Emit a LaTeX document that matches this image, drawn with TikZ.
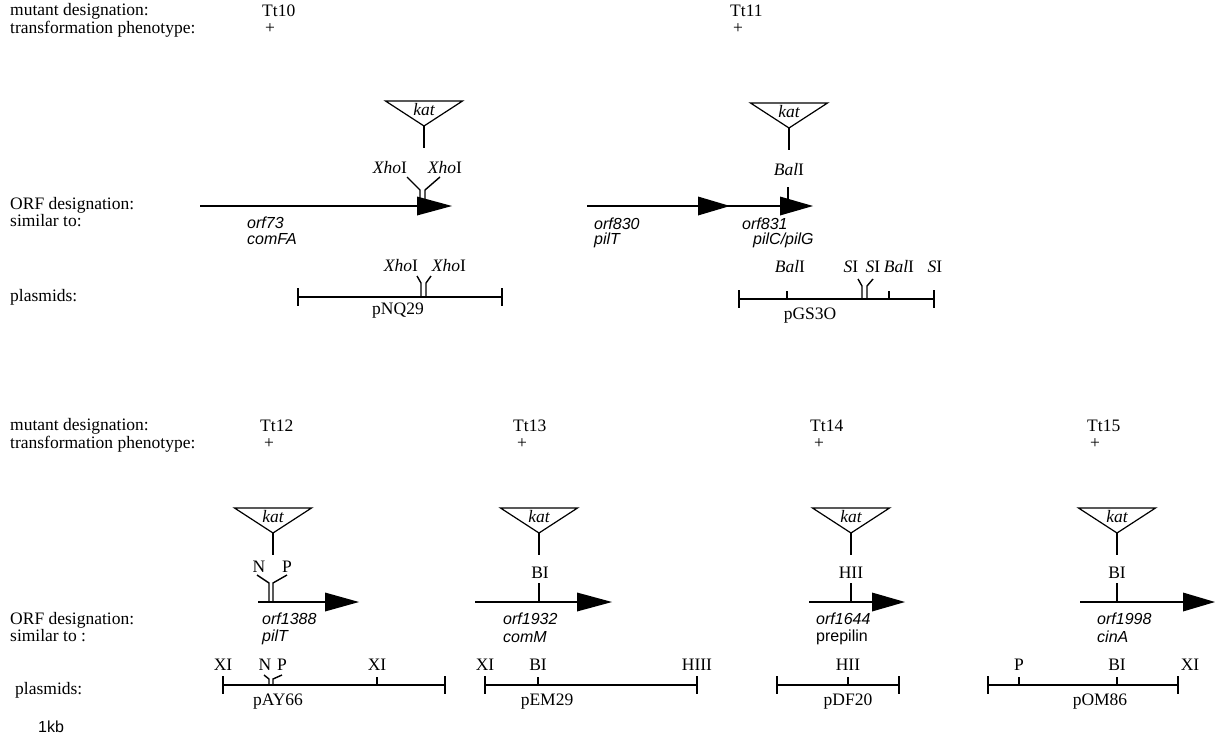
\documentclass[tikz,border=0pt]{standalone}
\usepackage{fontspec}
\setmainfont{Liberation Serif}
\newfontfamily\sansf{Liberation Sans}
\usetikzlibrary{calc}
\newcommand\fsr{\fontsize{17.5}{19}\selectfont}
\newcommand\fsa{\sansf\fontsize{16}{18}\selectfont}
\tikzset{
  lbl/.style={anchor=west, inner sep=0pt, font=\fsr},
  slbl/.style={anchor=west, inner sep=0pt, font=\fsa\itshape},
  slblr/.style={anchor=west, inner sep=0pt, font=\fsa},
  site/.style={anchor=center, inner sep=0pt, font=\fsr},
  gene/.style={line width=1.6pt},
  pline/.style={line width=1.6pt},
  tick/.style={line width=1.4pt},
  katline/.style={line width=1.2pt},
  kattext/.style={inner sep=0pt, font=\fsr\itshape},
}
% kat insertion: name, x centre, y top
\newcommand\katins[3]{%
  \coordinate (#1tl) at (#2-38.5,#3);
  \coordinate (#1tr) at (#2+38.5,#3);
  \coordinate (#1ap) at (#2,#3+25);
  \coordinate (#1end) at (#2,#3+47);
  \draw[katline] (#1tl) -- (#1tr) -- (#1ap) -- cycle;
  \draw[katline] (#1ap) -- (#1end);
  \node[kattext] (#1txt) at (#2,#3+9) {kat};
}
% arrow head: name, base x, tip x, y
\newcommand\ahead[4]{%
  \coordinate (#1b) at (#2,#4);
  \coordinate (#1t) at (#3,#4);
  \fill ([yshift=9.5pt]#1b) -- (#1t) -- ([yshift=-9.5pt]#1b) -- cycle;
}
% plasmid: name, x0, x1, y
\newcommand\plasmid[4]{%
  \coordinate (#1l) at (#2,#4);
  \coordinate (#1r) at (#3,#4);
  \draw[pline] (#1l) -- (#1r);
  \draw[tick] ([yshift=9pt]#1l) -- ([yshift=-9pt]#1l);
  \draw[tick] ([yshift=9pt]#1r) -- ([yshift=-9pt]#1r);
}
% site tick: name, x, y(line)
\newcommand\sitetick[3]{%
  \coordinate (#1a) at (#2,#3-8);
  \coordinate (#1b) at (#2,#3);
  \draw[tick] (#1a) -- (#1b);
}
\begin{document}
\begin{tikzpicture}[x=1pt,y=-1pt]
\useasboundingbox (0,0) rectangle (1215,750);

% ================= TOP =================
\node[lbl] (hm1) at (10,11) {mutant designation:};
\node[lbl] (hp1) at (10,29) {transformation phenotype:};
\node[lbl] (tt10) at (262,11) {Tt10};
\node[lbl] (tt10p) at (265,29) {+};
\node[lbl] (tt11) at (730,11) {Tt11};
\node[lbl] (tt11p) at (733,29) {+};

\node[lbl] (orfd1) at (10,205) {ORF designation:};
\node[lbl] (sim1) at (10,221) {similar to:};
\node[lbl] (pl1) at (10,297) {plasmids:};

% Tt10
\katins{k10}{424}{101}
\node[site] (x1l) at (390,168) {\textit{Xho}I};
\node[site] (x1r) at (445,168) {\textit{Xho}I};
\coordinate (g1s) at (200,206);
\ahead{h1}{417}{452}{206}
\draw[gene] (g1s) -- (h1b);
\coordinate (s1a) at (407,177); \coordinate (s1b) at (420,190); \coordinate (s1c) at (420,206);
\coordinate (s1d) at (440,177); \coordinate (s1e) at (425,190); \coordinate (s1f) at (425,206);
\draw[tick] (s1a) -- (s1b) -- (s1c);
\draw[tick] (s1d) -- (s1e) -- (s1f);
\node[slbl] (orf73) at (247,223) {orf73};
\node[slbl] (comfa) at (247,239) {comFA};

\plasmid{p1}{298}{502}{297}
\node[site] (px1l) at (401,266) {\textit{Xho}I};
\node[site] (px1r) at (449,266) {\textit{Xho}I};
\coordinate (q1a) at (417,276); \coordinate (q1b) at (421,283); \coordinate (q1c) at (421,297);
\coordinate (q1d) at (431,276); \coordinate (q1e) at (426,283); \coordinate (q1f) at (426,297);
\draw[tick] (q1a) -- (q1b) -- (q1c);
\draw[tick] (q1d) -- (q1e) -- (q1f);
\node[site] (pnq) at (398,311) {pNQ29};

% Tt11
\katins{k11}{789}{103}
\node[site] (bal1) at (789,170) {\textit{Bal}I};
\coordinate (g2s) at (587,206);
\ahead{h2a}{698}{730}{206}
\ahead{h2b}{780}{813}{206}
\draw[gene] (g2s) -- (h2bb);
\sitetick{bt}{788}{206}
\draw[tick] (788,187) -- (bta);
\node[slbl] (orf830) at (594,224) {orf830};
\node[slbl] (pilT1) at (594,240) {pilT};
\node[slbl] (orf831) at (742,224) {orf831};
\node[slbl] (pilCG) at (753,240) {pilC/pilG};

\plasmid{p2}{739}{934}{299}
\node[site] (pb1) at (790,267) {\textit{Bal}I};
\sitetick{pb1t}{787}{299}
\node[site] (ps1) at (851,267) {\textit{S}I};
\node[site] (ps2) at (873,267) {\textit{S}I};
\coordinate (q2a) at (858,279); \coordinate (q2b) at (862,286); \coordinate (q2c) at (862,299);
\coordinate (q2d) at (873,279); \coordinate (q2e) at (867,286); \coordinate (q2f) at (867,299);
\draw[tick] (q2a) -- (q2b) -- (q2c);
\draw[tick] (q2d) -- (q2e) -- (q2f);
\node[site] (pb2) at (899,267) {\textit{Bal}I};
\sitetick{pb2t}{889}{299}
\node[site] (ps3) at (935,267) {\textit{S}I};
\node[site] (pgs) at (810,316) {pGS3O};

% ================= BOTTOM =================
\node[lbl] (hm2) at (10,426) {mutant designation:};
\node[lbl] (hp2) at (10,444) {transformation phenotype:};
\node[lbl] (tt12) at (260,426) {Tt12};
\node[lbl] (tt12p) at (264,444) {+};
\node[lbl] (tt13) at (513,426) {Tt13};
\node[lbl] (tt13p) at (517,444) {+};
\node[lbl] (tt14) at (810,426) {Tt14};
\node[lbl] (tt14p) at (814,444) {+};
\node[lbl] (tt15) at (1087,426) {Tt15};
\node[lbl] (tt15p) at (1090,444) {+};

\node[lbl] (orfd2) at (10,620) {ORF designation:};
\node[lbl] (sim2) at (10,636) {similar to :};
\node[lbl] (pl2) at (15,690) {plasmids:};
\node[slblr] (kb) at (38,727) {1kb};

% Tt12
\katins{k12}{273}{508}
\node[site] (n12) at (259,567) {N};
\node[site] (p12) at (287,567) {P};
\coordinate (g3s) at (258,602);
\ahead{h3}{325}{359}{602}
\draw[gene] (g3s) -- (h3b);
\coordinate (s3a) at (257,575); \coordinate (s3b) at (269,583); \coordinate (s3c) at (269,602);
\coordinate (s3d) at (287,575); \coordinate (s3e) at (273,583); \coordinate (s3f) at (273,602);
\draw[tick] (s3a) -- (s3b) -- (s3c);
\draw[tick] (s3d) -- (s3e) -- (s3f);
\node[slbl] (orf1388) at (262,619) {orf1388};
\node[slbl] (pilT2) at (262,637) {pilT};

% Tt13
\katins{k13}{539}{508}
\node[site] (bi13) at (540,573) {BI};
\coordinate (g4s) at (475,602);
\ahead{h4}{577}{612}{602}
\draw[gene] (g4s) -- (h4b);
\coordinate (t4a) at (539,583); \coordinate (t4b) at (539,602);
\draw[tick] (t4a) -- (t4b);
\node[slbl] (orf1932) at (503,619) {orf1932};
\node[slbl] (comM) at (503,637) {comM};

% Tt14
\katins{k14}{851}{508}
\node[site] (hii14) at (851,573) {HII};
\coordinate (g5s) at (809,602);
\ahead{h5}{872}{905}{602}
\draw[gene] (g5s) -- (h5b);
\coordinate (t5a) at (851,583); \coordinate (t5b) at (851,602);
\draw[tick] (t5a) -- (t5b);
\node[slbl] (orf1644) at (816,619) {orf1644};
\node[slblr] (prep) at (816,637) {prepilin};

% Tt15
\katins{k15}{1117}{508}
\node[site] (bi15) at (1117,573) {BI};
\coordinate (g6s) at (1080,602);
\ahead{h6}{1183}{1215}{602}
\draw[gene] (g6s) -- (h6b);
\coordinate (t6a) at (1117,583); \coordinate (t6b) at (1117,602);
\draw[tick] (t6a) -- (t6b);
\node[slbl] (orf1998) at (1097,619) {orf1998};
\node[slbl] (cinA) at (1097,637) {cinA};

% plasmids bottom
\plasmid{p3}{223}{445}{685}
\node[site] (xi3a) at (223,665) {XI};
\node[site] (n3) at (265,665) {N};
\node[site] (p3s) at (282,665) {P};
\coordinate (q3a) at (264,675); \coordinate (q3b) at (269,679); \coordinate (q3c) at (269,685);
\coordinate (q3d) at (282,675); \coordinate (q3e) at (273,679); \coordinate (q3f) at (273,685);
\draw[tick] (q3a) -- (q3b) -- (q3c);
\draw[tick] (q3d) -- (q3e) -- (q3f);
\node[site] (xi3b) at (377,665) {XI};
\sitetick{t3}{377}{685}
\node[site] (pay) at (278,702) {pAY66};

\plasmid{p4}{485}{697}{685}
\node[site] (xi4) at (485,665) {XI};
\node[site] (bi4) at (538,665) {BI};
\sitetick{t4}{538}{685}
\node[site] (hiii4) at (697,665) {HIII};
\node[site] (pem) at (547,702) {pEM29};

\plasmid{p5}{777}{899}{685}
\node[site] (hii5) at (848,665) {HII};
\sitetick{t5}{848}{685}
\node[site] (pdf) at (848,702) {pDF20};

\plasmid{p6}{988}{1178}{685}
\node[site] (p6s) at (1019,665) {P};
\sitetick{t6a}{1019}{685}
\node[site] (bi6) at (1117,665) {BI};
\sitetick{t6b}{1117}{685}
\node[site] (xi6) at (1190,665) {XI};
\node[site] (pom) at (1100,702) {pOM86};
\end{tikzpicture}
\end{document}
